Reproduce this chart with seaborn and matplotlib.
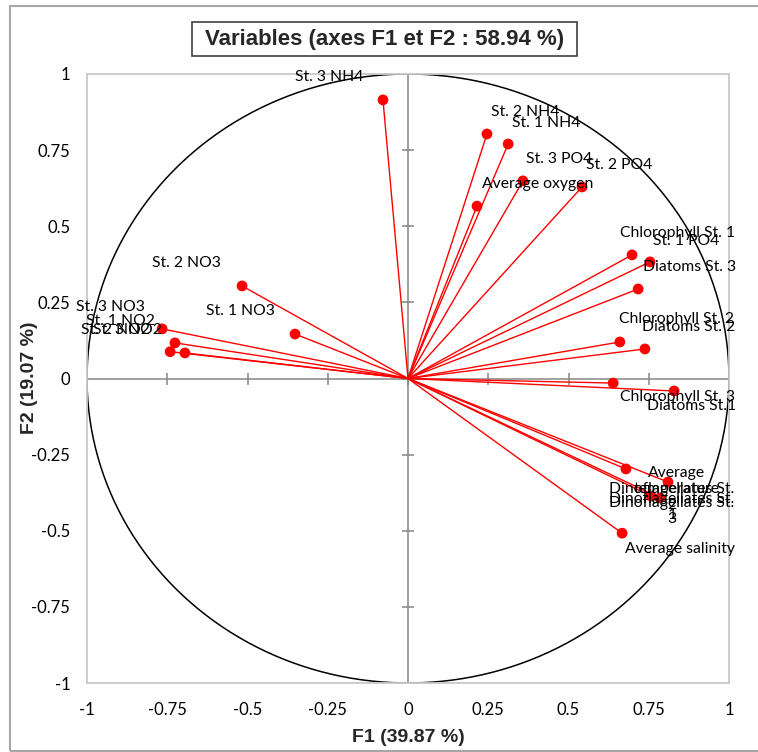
import numpy as np
import pandas as pd
import matplotlib
matplotlib.use("Agg")
import matplotlib.pyplot as plt
from matplotlib.patches import Rectangle
import seaborn as sns

# ---------------- data ----------------
variables = [
    "St. 3 NH4", "St. 2 NH4", "St. 1 NH4", "Average oxygen", "St. 3 PO4", "St. 2 PO4",
    "Chlorophyll St. 1", "St. 1 PO4", "Diatoms St. 3", "Chlorophyll St. 2", "Diatoms St. 2",
    "Chlorophyll St. 3", "Diatoms St.1", "Average\ntemperature", "Dinoflagellates St.\n2",
    "Dinoflagellates St.\n1", "Dinoflagellates St.\n3", "Average salinity",
    "St. 2 NO3", "St. 1 NO3", "St. 3 NO3", "St. 1 NO2", "St. 2 NO2", "St. 3 NO2",
]
f1 = [-0.078, 0.246, 0.312, 0.215, 0.358, 0.542,
      0.698, 0.754, 0.717, 0.660, 0.738,
      0.639, 0.829, 0.810, 0.679,
      0.757, 0.785, 0.667,
      -0.517, -0.352, -0.766, -0.726, -0.741, -0.695]
f2 = [0.915, 0.803, 0.770, 0.566, 0.649, 0.629,
      0.406, 0.383, 0.294, 0.120, 0.097,
      -0.015, -0.041, -0.340, -0.297,
      -0.386, -0.392, -0.508,
      0.304, 0.146, 0.163, 0.117, 0.088, 0.084]
tick_values = [-1, -0.75, -0.5, -0.25, 0, 0.25, 0.5, 0.75, 1]
tick_labels = ["-1", "-0.75", "-0.5", "-0.25", "0", "0.25", "0.5", "0.75", "1"]
title = "Variables (axes F1 et F2 : 58.94 %)"
xlabel = "F1 (39.87 %)"
ylabel = "F2 (19.07 %)"

# label placement (offset in pixels from each point to the label centre)
label_offsets = [(-54, 23), (38, 22), (38, 21), (61, 22), (36, 22), (37, 22),
                 (45, 22), (36, 21), (51, 22), (57, 23), (44, 22),
                 (64, -14), (17, -15), (9, 1), (46, -28),
                 (21, -11), (12, -13), (58, -16),
                 (-56, 23), (-55, 23), (-52, 22), (-55, 22), (-55, 22), (-57, 23)]

df = pd.DataFrame({"variable": variables, "F1": f1, "F2": f2})

# ---------------- figure ----------------
sns.set_theme(style="white")
plt.rcParams["font.family"] = ["Lato", "DejaVu Sans"]
W, H = 758, 752
fig = plt.figure(figsize=(W / 100, H / 100), dpi=100)
fig.patch.set_facecolor("white")

L, R, T, B = 87, 729, 74, 683
ax = fig.add_axes([L / W, 1 - B / H, (R - L) / W, (B - T) / H])
ax.set_xlim(-1, 1)
ax.set_ylim(-1, 1)

for s in ax.spines.values():
    s.set_color("#c8c8c8")
    s.set_linewidth(1.3)

# central axes with cross ticks
ax.axhline(0, color="#868686", lw=1.1, zorder=1)
ax.axvline(0, color="#868686", lw=1.1, zorder=1)
inner = [t for t in tick_values if abs(t) < 1]
ax.plot([0] * len(inner), inner, ls="none", marker="_", ms=8, mew=1.1, color="#868686", zorder=1)
ax.plot(inner, [0] * len(inner), ls="none", marker="|", ms=8, mew=1.1, color="#868686", zorder=1)

# correlation circle
theta = np.linspace(0, 2 * np.pi, 400)
ax.plot(np.cos(theta), np.sin(theta), color="black", lw=1.1, zorder=2)

# vectors
for x, y in zip(df["F1"], df["F2"]):
    ax.plot([0, x], [0, y], color="#ff0000", lw=1.0, zorder=3)
sns.scatterplot(data=df, x="F1", y="F2", ax=ax, color="#ff0000", s=60,
                edgecolor="none", zorder=4, legend=False)

# labels
for name, x, y, (dx, dy) in zip(df["variable"], df["F1"], df["F2"], label_offsets):
    ax.annotate(name, (x, y), xytext=(dx, dy), textcoords="offset pixels",
                ha="center", va="center", fontsize=11.3, color="black",
                linespacing=1.15, zorder=5, annotation_clip=False)

ax.set_xticks(tick_values)
ax.set_xticklabels(tick_labels)
ax.set_yticks(tick_values)
ax.set_yticklabels(tick_labels)
ax.tick_params(axis="both", length=0, labelsize=12, colors="black")
ax.tick_params(axis="x", pad=14)
ax.tick_params(axis="y", pad=12)
ax.set_xlabel("")
ax.set_ylabel("")

bold_font = ["Liberation Sans Narrow", "Liberation Sans", "DejaVu Sans"]
fig.text(408 / W, 1 - 737 / H, xlabel, ha="center", va="center",
         fontsize=14, fontweight="bold", family=bold_font)
fig.text(30 / W, 1 - 378 / H, ylabel, ha="center", va="center", rotation=90,
         fontsize=14, fontweight="bold", family=bold_font)

# title with box
fig.patches.append(Rectangle((192 / W, 1 - 56 / H), (577 - 192) / W, (56 - 22) / H,
                             transform=fig.transFigure, fill=False,
                             edgecolor="#404040", lw=1.2))
fig.text(385 / W, 1 - 39.5 / H, title, ha="center", va="center",
         fontsize=16, fontweight="bold", family=bold_font)

# outer chart border
fig.patches.append(Rectangle((10 / W, 1 - 751 / H), (W + 10) / W, (751 - 6) / H,
                             transform=fig.transFigure, fill=False,
                             edgecolor="#a6a6a6", lw=1.5))

fig.savefig("out.png", dpi=100)
